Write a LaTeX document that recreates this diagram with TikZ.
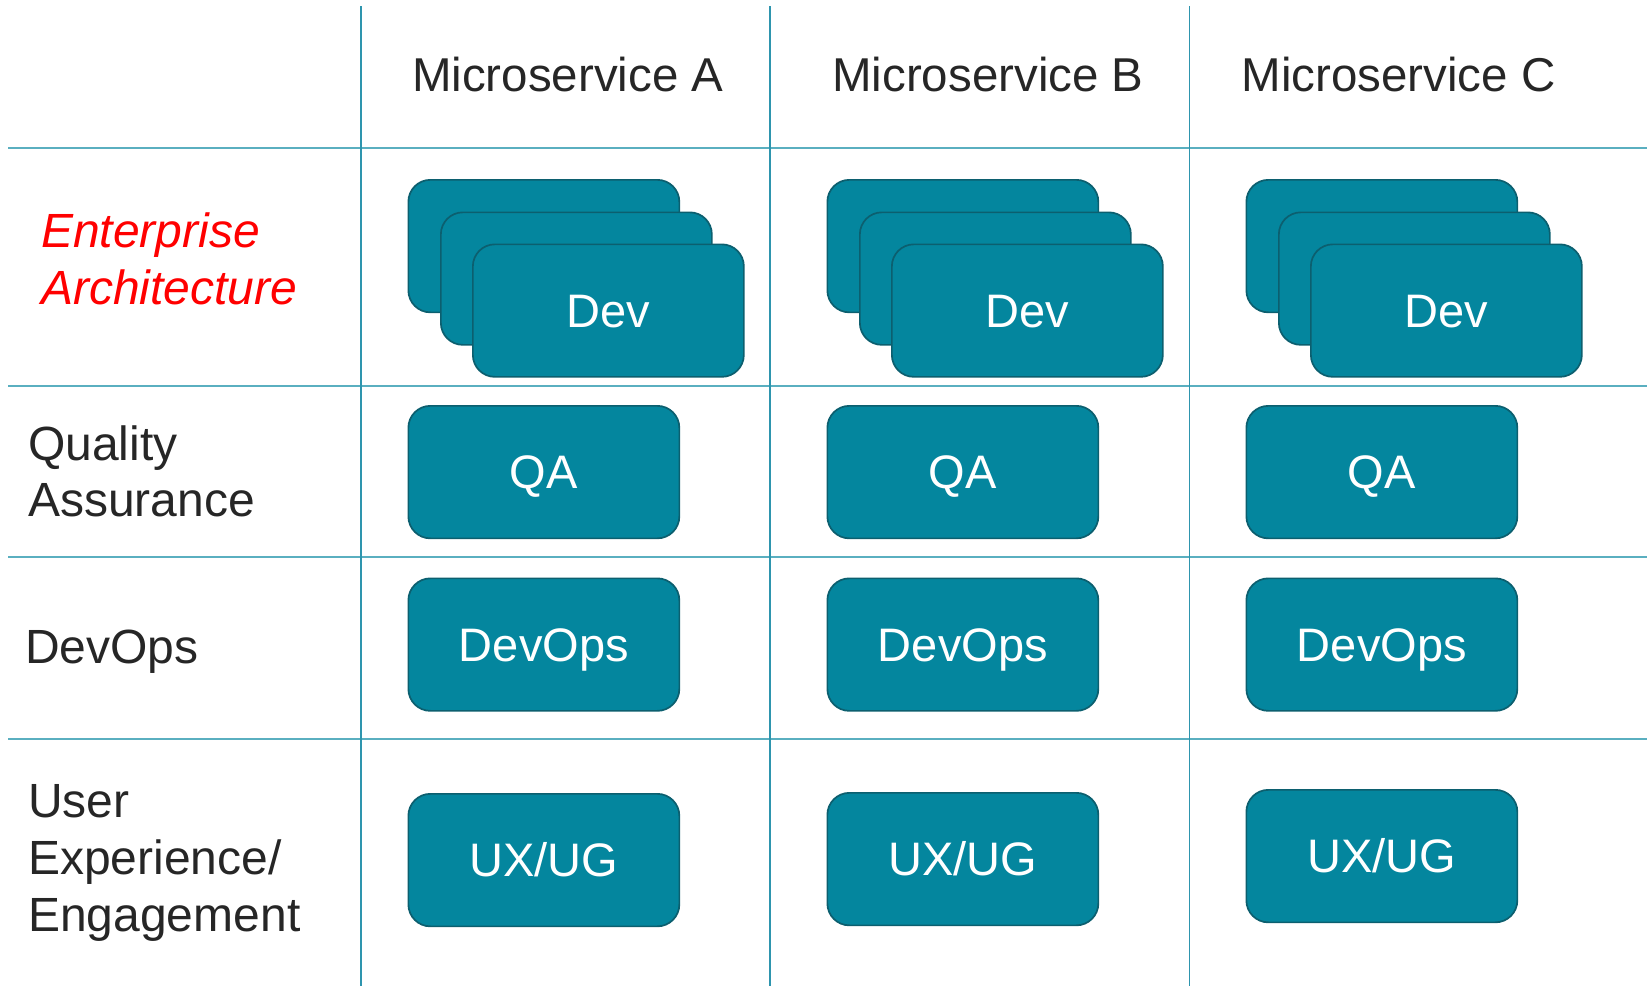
\documentclass[tikz,border=0pt]{standalone}
\usepackage{fontspec}
\setmainfont{Liberation Sans}
\definecolor{tealfill}{HTML}{04869E}
\definecolor{tealedge}{HTML}{0C5F6F}
\definecolor{gridh}{HTML}{5AAFC0}
\definecolor{gridv}{HTML}{2E95AE}
\definecolor{ink}{HTML}{262626}
\definecolor{eared}{HTML}{FF0000}

\tikzset{
  rowrule/.style={draw=gridh, line width=2.2},
  colrule/.style={draw=gridv, line width=1.5},
  card/.style={draw=tealedge, line width=1.7, fill=tealfill, rounded corners=22,
    minimum width=271, minimum height=132.5, inner sep=0, anchor=north west,
    text=white, font=\fontsize{47}{50}\selectfont, text height=33.5, text depth=0},
  colhead/.style={anchor=base, inner sep=0, text=ink, font=\fontsize{47.5}{56}\selectfont},
  rowhead/.style={anchor=base west, inner sep=0, text=ink, font=\fontsize{48}{56}\selectfont},
  rowheadred/.style={rowhead, text=eared, font=\itshape\fontsize{48}{56}\selectfont}
}

\begin{document}
\begin{tikzpicture}[x=1pt,y=-1pt]
\useasboundingbox (0,0) rectangle (1647,986);

% table rules
\foreach \i/\yy in {1/148,2/385.7,3/556.7,4/738.7}{
  \coordinate (rl\i) at (8,\yy);
  \coordinate (rr\i) at (1647,\yy);
  \draw[rowrule] (rl\i) -- (rr\i);
}
\foreach \i/\xx in {1/361,2/770,3/1189.5}{
  \coordinate (ct\i) at (\xx,6);
  \coordinate (cb\i) at (\xx,986);
  \draw[colrule] (ct\i) -- (cb\i);
}

% column headings
\node[colhead] (hdA) at (567.8,91.5) {Microservice A};
\node[colhead] (hdB) at (988,91.5) {Microservice B};
\node[colhead] (hdC) at (1398.6,91.5) {Microservice C};

% row headings
\node[rowheadred] (ea1) at (41,247) {Enterprise};
\node[rowheadred] (ea2) at (41,304) {Architecture};
\node[rowhead] (qa1) at (28,460) {Quality};
\node[rowhead] (qa2) at (28,516) {Assurance};
\node[rowhead] (do1) at (25,663) {DevOps};
\node[rowhead] (ux1) at (28,817) {User};
\node[rowhead] (ux2) at (28,874) {Experience/};
\node[rowhead] (ux3) at (28,931) {Engagement};

% team cards per microservice
\foreach \c/\dx/\uy in {A/0/793,B/419/792,C/838/789}{
  \node[card] (dev\c back) at (407.5+\dx,179) {};
  \node[card] (dev\c mid) at (440+\dx,211.5) {};
  \node[card] (dev\c) at (472+\dx,243.5) {Dev};
  \node[card] (qa\c) at (407.5+\dx,405) {QA};
  \node[card] (ops\c) at (407.5+\dx,577.5) {DevOps};
  \node[card] (ux\c) at (407.5+\dx,\uy) {UX/UG};
}
\end{tikzpicture}
\end{document}
